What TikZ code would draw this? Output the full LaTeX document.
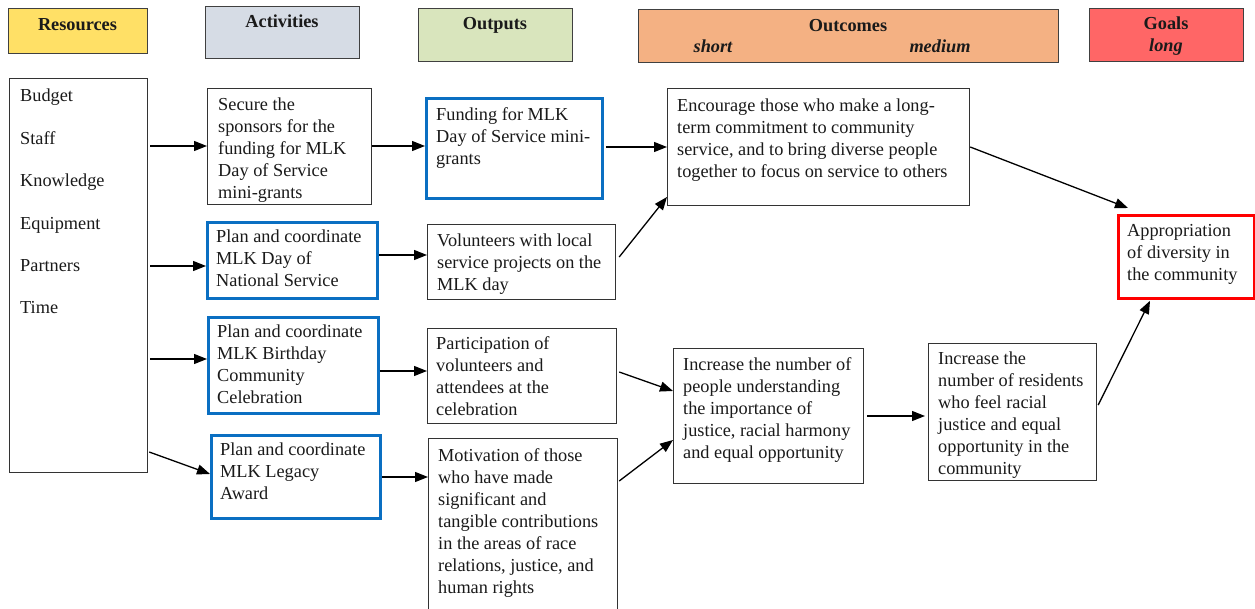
\documentclass[tikz,border=0pt]{standalone}
\usepackage{fontspec}
\setmainfont{Liberation Serif}
\usetikzlibrary{arrows.meta,calc}

\newcommand\bodyfont{\fontsize{18.3}{22}\selectfont}
\newcommand\headfont{\fontsize{18.3}{22}\selectfont\bfseries}

\definecolor{resfill}{HTML}{FFE066}
\definecolor{actfill}{HTML}{D6DCE5}
\definecolor{outfill}{HTML}{D9E5BD}
\definecolor{ocfill}{HTML}{F4B183}
\definecolor{goalfill}{HTML}{FF6666}
\definecolor{boxblue}{HTML}{0A6FC2}
\definecolor{boxred}{HTML}{FF0000}
\definecolor{ink}{HTML}{1A1A1A}

\tikzset{
  hdr/.style={draw=black!75, line width=1.3pt, anchor=north west, inner sep=0pt},
  hdrtext/.style={anchor=base, inner sep=0pt, font=\headfont, text=ink},
  frame/.style={draw=black!80, line width=1.2pt, anchor=north west, inner sep=0pt},
  bluebox/.style={frame, draw=boxblue, line width=2.8pt},
  redbox/.style={frame, draw=boxred, line width=2.8pt},
  % placed near the first baseline: the strut fixes the first line's height
  txt/.style={anchor=north west, yshift=13pt, align=left, inner sep=0pt, font=\bodyfont, text=ink,
              execute at begin node={\rule{0pt}{15pt}}},
  arr/.style={-{Triangle[length=13pt,width=10pt]}, line width=1.3pt, black}
}

\begin{document}
\begin{tikzpicture}[x=1pt,y=-1pt]
\useasboundingbox (0,0) rectangle (1255,609);
\fill[white] (0,0) rectangle (1255,609);

% column headers
\node[hdr, fill=resfill,  minimum width=139pt, minimum height=45pt] (hres)  at (8,8) {};
\node[hdr, fill=actfill,  minimum width=154pt, minimum height=52pt] (hact)  at (205,6) {};
\node[hdr, fill=outfill,  minimum width=154pt, minimum height=53pt] (hout)  at (418,8) {};
\node[hdr, fill=ocfill,   minimum width=420pt, minimum height=53pt] (hoc)   at (638,9) {};
\node[hdr, fill=goalfill, minimum width=154pt, minimum height=53pt] (hgoal) at (1089,8) {};

\node[hdrtext] (hrest)  at (77.5,31) {Resources};
\node[hdrtext] (hactt)  at (282,28) {Activities};
\node[hdrtext] (houtt)  at (495,30) {Outputs};
\node[hdrtext] (hoct)   at (848,32) {Outcomes};
\node[hdrtext, font=\headfont\itshape] (hshort)  at (713,53) {short};
\node[hdrtext, font=\headfont\itshape] (hmedium) at (940,53) {medium};
\node[hdrtext] (hgoalt) at (1166,30) {Goals};
\node[hdrtext, font=\headfont\itshape] (hlong) at (1166,52) {long};

% resources
\node[frame, minimum width=138pt, minimum height=394pt] (res) at (9,78) {};
\node[txt] (rest) at (20,102) {Budget\\[20.4pt]Staff\\[20.4pt]Knowledge\\[20.4pt]Equipment\\[20.4pt]Partners\\[20.4pt]Time};

% activities
\node[frame,   minimum width=164pt, minimum height=116pt] (a1) at (207,88) {};
\node[bluebox, minimum width=170pt, minimum height=76pt]  (a2) at (206,221) {};
\node[bluebox, minimum width=170pt, minimum height=96pt]  (a3) at (207,316) {};
\node[bluebox, minimum width=169pt, minimum height=83pt]  (a4) at (210,434) {};
\node[txt] (a1t) at (218,111) {Secure the\\sponsors for the\\funding for MLK\\Day of Service\\mini-grants};
\node[txt] (a2t) at (216,243) {Plan and coordinate\\MLK Day of\\National Service};
\node[txt] (a3t) at (217,338) {Plan and coordinate\\MLK Birthday\\Community\\Celebration};
\node[txt] (a4t) at (220,456) {Plan and coordinate\\MLK Legacy\\Award};

% outputs
\node[bluebox, minimum width=176pt, minimum height=100pt] (o1) at (425,97) {};
\node[frame,   minimum width=188pt, minimum height=75pt]  (o2) at (427,224) {};
\node[frame,   minimum width=189pt, minimum height=95pt]  (o3) at (427,328) {};
\node[frame,   minimum width=189pt, minimum height=200pt] (o4) at (428,438) {};
\node[txt] (o1t) at (436,120) {Funding for MLK\\Day of Service mini-\\grants};
\node[txt] (o2t) at (437,247) {Volunteers with local\\service projects on the\\MLK day};
\node[txt] (o3t) at (436,349) {Participation of\\volunteers and\\attendees at the\\celebration};
\node[txt] (o4t) at (438,461) {Motivation of those\\who have made\\significant and\\tangible contributions\\in the areas of race\\relations, justice, and\\human rights};

% outcomes
\node[frame, minimum width=302pt, minimum height=117pt] (s1) at (667,88) {};
\node[frame, minimum width=190pt, minimum height=135pt] (s2) at (673,348) {};
\node[frame, minimum width=168pt, minimum height=137pt] (m1) at (928,343) {};
\node[txt] (s1t) at (677,112) {Encourage those who make a long-\\term commitment to community\\service, and to bring diverse people\\together to focus on service to others};
\node[txt] (s2t) at (683,370) {Increase the number of\\people understanding\\the importance of\\justice, racial harmony\\and equal opportunity};
\node[txt] (m1t) at (938,365) {Increase the\\number of residents\\who feel racial\\justice and equal\\opportunity in the\\community};

% goal
\node[redbox, minimum width=136pt, minimum height=83pt] (goal) at (1117,214) {};
\node[txt] (goalt) at (1127,237) {Appropriation\\of diversity in\\the community};

% connectors
\draw[arr] ($(res.east |- 0,146)+(2,0)$) -- (a1.west |- 0,146);
\draw[arr] ($(res.east |- 0,266)+(2,0)$) -- (a2.west |- 0,266);
\draw[arr] ($(res.east |- 0,359)+(2,0)$) -- (a3.west |- 0,359);
\draw[arr] ($(res.east |- 0,452)+(1,0)$) -- (a4.west |- 0,474);

\draw[arr] (a1.east |- 0,146) -- (o1.west |- 0,146);
\draw[arr] (a2.east |- 0,255) -- (o2.west |- 0,255);
\draw[arr] (a3.east |- 0,371) -- (o3.west |- 0,371);
\draw[arr] (a4.east |- 0,477) -- (o4.west |- 0,477);

\draw[arr] ($(o1.east |- 0,147)+(2,0)$) -- (s1.west |- 0,147);
\draw[arr] ($(o2.east |- 0,257)+(3,0)$) -- (s1.west |- 0,197);
\draw[arr] ($(o3.east |- 0,372)+(2,0)$) -- (s2.west |- 0,391);
\draw[arr] ($(o4.east |- 0,481)+(1,0)$) -- (s2.west |- 0,440);

\draw[arr] (s1.east |- 0,147) -- ($(goal.north west)+(11,-6)$);
\draw[arr] ($(s2.east |- 0,416)+(3,0)$) -- ($(m1.west |- 0,416)+(-3,0)$);
\draw[arr] ($(m1.east |- 0,405)+(1,0)$) -- ($(goal.south west)+(33,1)$);
\end{tikzpicture}
\end{document}
